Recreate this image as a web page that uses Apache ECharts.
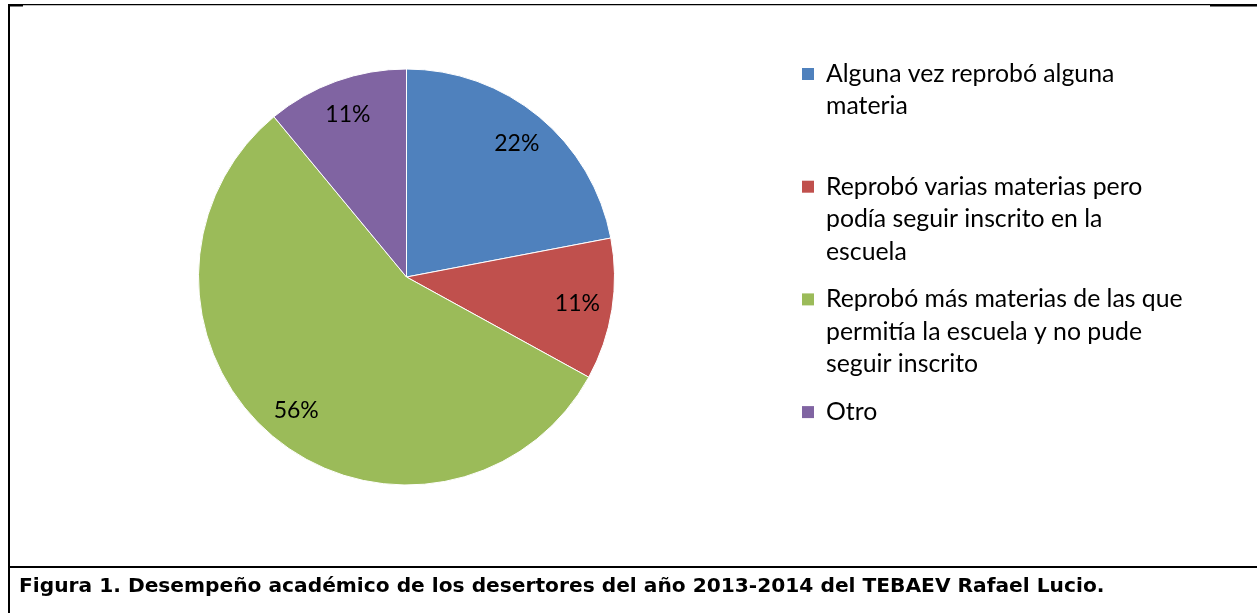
<!DOCTYPE html>
<html>
<head>
<meta charset="utf-8">
<title>Figura 1</title>
<script src="https://cdn.jsdelivr.net/npm/echarts@6/dist/echarts.min.js"></script>
<style>
  html, body { margin: 0; padding: 0; background: #fff; }
  #chart { width: 1257px; height: 613px; }
</style>
</head>
<body>
<div id="chart"></div>
<script>
// categorias y porcentajes
var categorias = [
  'Alguna vez reprobó alguna materia',
  'Reprobó varias materias pero podía seguir inscrito en la escuela',
  'Reprobó más materias de las que permitía la escuela y no pude seguir inscrito',
  'Otro'
];
var porcentajes = [22, 11, 56, 11];
// cortes de línea de la leyenda
var lineasLeyenda = [
  ['Alguna vez reprobó alguna', 'materia'],
  ['Reprobó varias materias pero', 'podía seguir inscrito en la', 'escuela'],
  ['Reprobó más materias de las que', 'permitía la escuela y no pude', 'seguir inscrito'],
  ['Otro']
];
var colores = ['#4F81BD', '#C0504D', '#9BBB59', '#8064A2'];
var pie = categorias.map(function (n, i) { return { name: n, value: porcentajes[i] }; });

var chart = echarts.init(document.getElementById('chart'));
var LH = 32.5;

chart.setOption({
  animation: false,
  color: colores,
  title: {
    text: 'Figura 1. Desempeño académico de los desertores del año 2013-2014 del TEBAEV Rafael Lucio.',
    left: 19, top: 577, padding: 0,
    textStyle: { fontFamily: 'DejaVu Sans', fontWeight: 'bold', fontSize: 20.2, color: '#000' }
  },
  legend: {
    orient: 'vertical',
    left: 802, top: -7.25,
    padding: 0,
    itemWidth: 12, itemHeight: 12,
    itemGap: 112.7 - 5 * LH,
    icon: 'rect',
    selectedMode: false,
    itemStyle: { borderWidth: 0 },
    data: categorias,
    formatter: function (name) {
      // el primer renglón queda centrado con el cuadrito
      var l = lineasLeyenda[categorias.indexOf(name)].slice();
      while (l.length < 3) l.push('');
      return '\n\n' + l.join('\n');
    },
    textStyle: { fontFamily: 'Lato', fontSize: 24.8, color: '#000', lineHeight: LH, padding: [0, 0, 0, 7] }
  },
  graphic: [
    { type: 'rect', shape: { x: 8, y: 4, width: 1249, height: 1.2 }, style: { fill: '#000' }, silent: true },
    { type: 'rect', shape: { x: 8, y: 4, width: 15, height: 2.5 }, style: { fill: '#000' }, silent: true },
    { type: 'rect', shape: { x: 1210, y: 4, width: 47, height: 2.5 }, style: { fill: '#000' }, silent: true },
    { type: 'rect', shape: { x: 8, y: 4, width: 2, height: 609 }, style: { fill: '#000' }, silent: true },
    { type: 'rect', shape: { x: 8, y: 566, width: 1249, height: 2 }, style: { fill: '#000' }, silent: true }
  ],
  series: [
    {
      type: 'pie',
      center: [406.5, 277],
      radius: 208,
      startAngle: 90,
      silent: true,
      label: { show: false },
      labelLine: { show: false },
      itemStyle: { borderColor: '#fff', borderWidth: 1 },
      data: pie
    },
    {
      // anillo transparente solo para ubicar las etiquetas
      type: 'pie',
      center: [406.5, 277],
      radius: [132, 208],
      startAngle: 90,
      silent: true,
      itemStyle: { color: 'rgba(0,0,0,0)' },
      label: {
        show: true, position: 'inside', formatter: '{c}%',
        fontFamily: 'Lato', fontSize: 23, color: '#000'
      },
      labelLine: { show: false },
      data: pie
    }
  ]
});
</script>
</body>
</html>
